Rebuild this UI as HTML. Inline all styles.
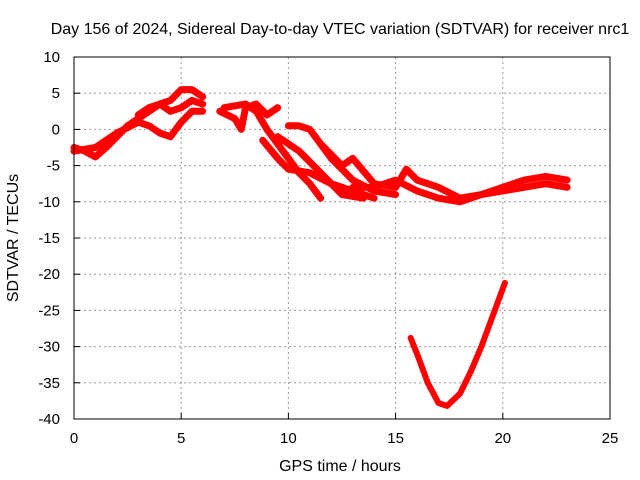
<!DOCTYPE html>
<html><head><meta charset="utf-8"><style>
body{margin:0;background:#fff}
svg{display:block;font-family:"Liberation Sans",sans-serif;font-size:15px}
</style></head><body>
<svg id="chart" width="640" height="480">
<text x="340" y="34" text-anchor="middle" font-size="16">Day 156 of 2024, Sidereal Day-to-day VTEC variation (SDTVAR) for receiver nrc1</text>
<g id="grid"></g>
<g id="data"></g>
<rect x="74" y="57" width="536" height="362" fill="none" stroke="#000" stroke-width="1"/>
<g id="axes"></g>
<text x="340" y="471" text-anchor="middle" font-size="16">GPS time / hours</text>
<text transform="translate(18,238) rotate(-90)" text-anchor="middle" font-size="16">SDTVAR / TECUs</text>
</svg>
<script>
const xTicks=[0,5,10,15,20,25];
const yTicks=[10,5,0,-5,-10,-15,-20,-25,-30,-35,-40];
const track1=[[0,-2.5],[0.5,-3],[1,-3.8],[1.5,-2.5],[2,-1],[2.5,0.5],[3,1.5],[3.5,2.5],[4,3.5],[4.5,4],[5,5.5],[5.5,5.5],[6,4.5]];
const track2=[[0,-3],[1,-2.5],[2,-0.5],[3,1],[3.5,0.5],[4,-0.5],[4.5,-1],[5,1],[5.5,2.5],[6,2.5]];
const track3=[[3,2],[3.5,3],[4,3.5],[4.5,2.5],[5,3],[5.5,4],[6,3.5]];
const track4=[[6.8,2.5],[7.5,1.5],[7.8,0],[8,3],[8.5,3.5],[9,2],[9.5,3]];
const track5=[[7,3],[8,3.5],[8.5,2.5],[9,0],[9.5,-2],[10,-4],[10.5,-6],[11,-7.5],[11.5,-9.5]];
const track6=[[8.8,-1.5],[9.5,-4],[10,-5.5],[11,-6],[12,-7.5],[13,-8.5],[14,-9.5]];
const track7=[[10,0.5],[10.5,0.5],[11,0],[12,-4],[13,-7],[14,-8.5],[15,-9]];
const track8=[[9.5,-1],[10.5,-3],[11.5,-6],[12.5,-9],[13.5,-9.5]];
const track9=[[11.5,-2],[12.5,-5],[13,-4],[14,-7.5],[15,-8],[15.5,-5.5],[16,-7],[17,-8],[18,-9.5],[19,-9],[20,-8],[21,-7],[22,-6.5],[23,-7]];
const track10=[[13,-8],[14,-8],[15,-7],[16,-8.5],[17,-9.5],[18,-10],[19,-9],[20,-8.5],[21,-8],[22,-7.5],[23,-8]];
const trackV=[[15.7,-28.8],[16,-31],[16.5,-35],[17,-37.8],[17.4,-38.2],[18,-36.5],[18.5,-33.5],[19,-30],[19.5,-26],[20.1,-21.2]];
const tracks=[track1,track2,track3,track4,track5,track6,track7,track8,track9,track10,trackV];
const NS="http://www.w3.org/2000/svg";
const X=t=>74+(t-0)/25*536;
const Y=v=>57+(10-v)/50*362;
const grid=document.getElementById('grid'),axes=document.getElementById('axes'),data=document.getElementById('data');
function mk(tag,attrs,parent){const e=document.createElementNS(NS,tag);for(const k in attrs)e.setAttribute(k,attrs[k]);parent.appendChild(e);return e;}
xTicks.forEach(t=>{
 if(t>0&&t<25){const l=mk('line',{x1:X(t),x2:X(t),y1:57,y2:419,stroke:'#999','stroke-dasharray':'2,3'},grid);
 
 }
 const tk=mk('line',{x1:X(t),x2:X(t),y1:419,y2:413,stroke:'#000'},axes);
 
 
 const tx=mk('text',{x:X(t),y:443,'text-anchor':'middle'},axes);tx.textContent=t;
 
 
});
yTicks.forEach(v=>{
 if(v<10&&v>-40){const l=mk('line',{x1:74,x2:610,y1:Y(v),y2:Y(v),stroke:'#999','stroke-dasharray':'2,3'},grid);
 
 }
 const tk=mk('line',{x1:74,x2:80,y1:Y(v),y2:Y(v),stroke:'#000'},axes);
 
 
 const tx=mk('text',{x:60,y:Y(v)+5,'text-anchor':'end'},axes);tx.textContent=v;
 
 
});
tracks.forEach((tr,i)=>{
 const p=mk('polyline',{points:tr.map(d=>X(d[0])+','+Y(d[1])).join(' '),fill:'none',stroke:'#ff0000','stroke-width':tr===trackV?6:7,'stroke-linejoin':'round','stroke-linecap':'round'},data);
 
 
});
</script>
</body></html>
